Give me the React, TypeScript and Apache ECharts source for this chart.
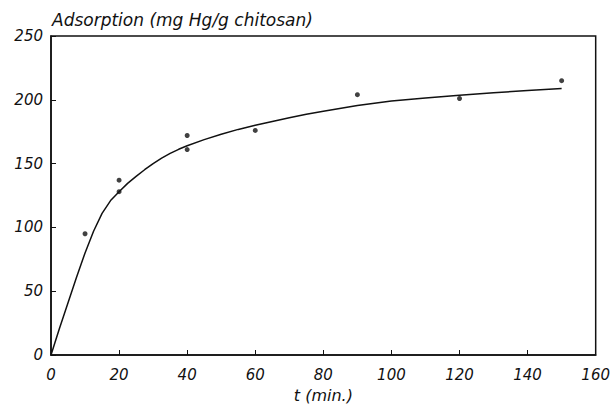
import React, { useEffect, useRef } from "react";
import * as echarts from "echarts";

const titleText = "Adsorption (mg Hg/g chitosan)";
const xAxisName = "t (min.)";

// measured data points: [t (min), adsorption]
const pointT = [10, 20, 20, 40, 40, 60, 90, 120, 150];
const pointQ = [95, 137, 128, 172, 161, 176, 204, 201, 215];

// fitted curve
const curveT = [0, 2.5, 5, 7.5, 10, 12.5, 15, 17.5, 20, 22.5, 25, 27.5, 30, 32.5, 35, 37.5, 40, 45, 50, 55, 60, 65, 70, 75, 80, 90, 100, 110, 120, 130, 140, 150];
const curveQ = [0, 21, 41, 61, 80, 97, 111, 121, 128, 134.5, 140, 145.2, 150, 154.3, 158, 161.2, 164, 168.8, 173, 176.8, 180, 183, 186, 188.7, 191, 195.5, 199, 201.5, 203.5, 205.5, 207.2, 208.8];

const font = "'DejaVu Sans', sans-serif";

export default function App() {
  const ref = useRef<HTMLDivElement>(null);
  useEffect(() => {
    if (!ref.current) return;
    const chart = echarts.init(ref.current, null, { renderer: "svg" });
    chart.setOption({
      animation: false,
      backgroundColor: "#ffffff",
      grid: { left: 51, right: 14, top: 36, bottom: 47, show: true, borderColor: "#111", borderWidth: 1.5, backgroundColor: "transparent" },
      graphic: [
        {
          type: "text",
          left: 52,
          top: 11,
          style: { text: titleText, fontFamily: font, fontStyle: "italic", fontSize: 17, fill: "#111" },
        },
      ],
      xAxis: {
        type: "value",
        min: 0,
        max: 160,
        interval: 20,
        name: xAxisName,
        nameLocation: "middle",
        nameGap: 32,
        nameTextStyle: { fontFamily: font, fontStyle: "italic", fontSize: 16, color: "#111" },
        axisLine: { show: true, onZero: false, lineStyle: { color: "#111", width: 1.5 } },
        axisTick: { show: true, inside: true, length: 5, lineStyle: { color: "#111", width: 1 } },
        axisLabel: { fontFamily: font, fontStyle: "italic", fontSize: 15, color: "#111", margin: 12 },
        splitLine: { show: false },
      },
      yAxis: {
        type: "value",
        min: 0,
        max: 250,
        interval: 50,
        axisLine: { show: true, onZero: false, lineStyle: { color: "#111", width: 1.5 } },
        axisTick: { show: true, inside: true, length: 5, lineStyle: { color: "#111", width: 1 } },
        axisLabel: { fontFamily: font, fontStyle: "italic", fontSize: 15, color: "#111", margin: 8 },
        splitLine: { show: false },
      },
      series: [
        {
          type: "line",
          data: curveT.map((t, i) => [t, curveQ[i]]),
          smooth: false,
          showSymbol: false,
          lineStyle: { color: "#111", width: 1.5, join: "round" },
          z: 2,
        },
        {
          type: "scatter",
          data: pointT.map((t, i) => [t, pointQ[i]]),
          symbol: "circle",
          symbolSize: 5,
          itemStyle: { color: "#111" },
          z: 3,
        },
      ],
    });
    return () => chart.dispose();
  }, []);
  return <div ref={ref} style={{ width: 613, height: 408, position: "absolute", left: 0, top: 0 }} />;
}
